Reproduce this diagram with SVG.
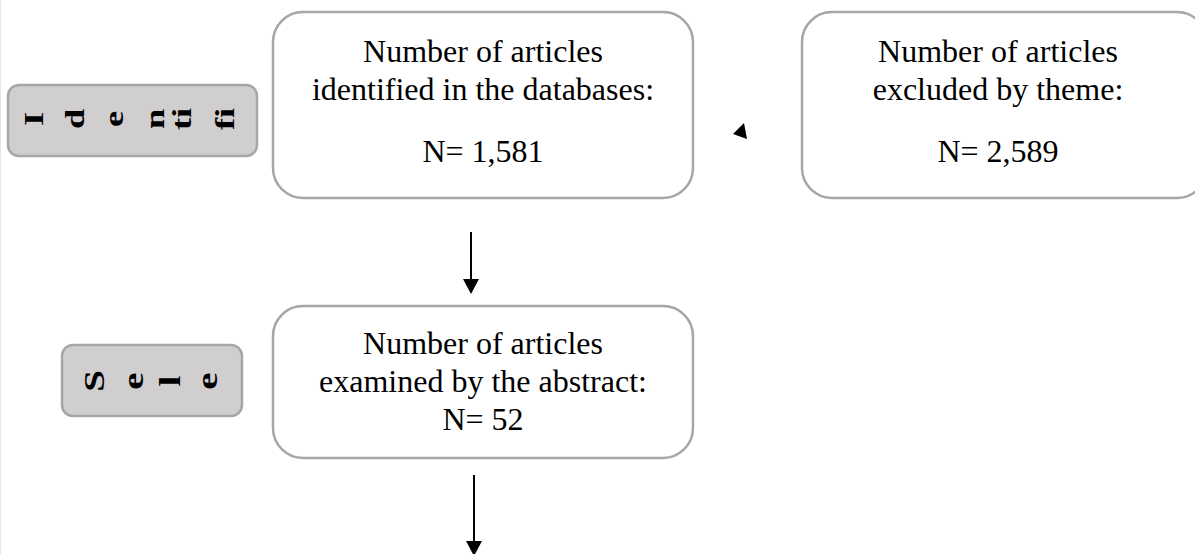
<svg xmlns="http://www.w3.org/2000/svg" width="1195" height="554" viewBox="0 0 1195 554">
<defs>
<style>
.box{fill:#ffffff;stroke:#a6a6a6;stroke-width:2.5}
.side{fill:#d0cece;stroke:#a6a6a6;stroke-width:2.5}
.t{font-family:"Liberation Serif","Times New Roman",serif;font-size:32px;fill:#000;text-anchor:middle}
.r{font-family:"Liberation Serif","Times New Roman",serif;font-size:28px;font-weight:bold;fill:#000;text-anchor:middle}
.r2{font-family:"Liberation Serif","Times New Roman",serif;font-size:30px;font-weight:bold;fill:#000;text-anchor:middle}
.ln{stroke:#000;stroke-width:2;fill:none}
</style>
</defs>
<rect width="1195" height="554" fill="#ffffff"/>
<line x1="0.5" y1="0" x2="0.5" y2="554" stroke="#e6e6e6" stroke-width="1"/>
<g id="identification">
<rect class="side" x="8" y="85" width="249" height="71" rx="11"/>
<text class="r" transform="translate(43,119) rotate(-90) scale(1.3,1)">I</text>
<text class="r" transform="translate(84,119) rotate(-90) scale(1.3,1)">d</text>
<text class="r" transform="translate(123,119) rotate(-90) scale(1.3,1)">e</text>
<text class="r" transform="translate(164,119) rotate(-90) scale(1.3,1)">n</text>
<text class="r" transform="translate(191,119) rotate(-90) scale(1.3,1)">ti</text>
<text class="r" transform="translate(234,119) rotate(-90) scale(1.3,1)">fi</text>
</g>
<g id="selection">
<rect class="side" x="62" y="345" width="180" height="71" rx="11"/>
<text class="r2" transform="translate(104,381) rotate(-90) scale(1.3,1)">S</text>
<text class="r2" transform="translate(143,381) rotate(-90) scale(1.3,1)">e</text>
<text class="r2" transform="translate(180,381) rotate(-90) scale(1.3,1)">l</text>
<text class="r2" transform="translate(217,381) rotate(-90) scale(1.3,1)">e</text>
</g>
<g id="identified">
<rect class="box" x="273" y="12" width="420" height="186" rx="30"/>
<text class="t" x="483" y="62">Number of articles</text>
<text class="t" x="483" y="100">identified in the databases:</text>
<text class="t" x="483" y="162">N= 1,581</text>
</g>
<g id="excluded">
<rect class="box" x="802" y="12" width="405" height="186" rx="30"/>
<text class="t" x="998" y="62">Number of articles</text>
<text class="t" x="998" y="100">excluded by theme:</text>
<text class="t" x="998" y="162">N= 2,589</text>
</g>
<g id="abstract">
<rect class="box" x="273" y="306" width="420" height="152" rx="30"/>
<text class="t" x="483" y="354">Number of articles</text>
<text class="t" x="483" y="392">examined by the abstract:</text>
<text class="t" x="483" y="430">N= 52</text>
</g>
<g id="connectors">
<polygon points="744,123 733,134 747,139" fill="#000"/>
<line class="ln" x1="471" y1="232" x2="471" y2="281"/>
<polygon points="463,279 479,279 471,294" fill="#000"/>
<line class="ln" x1="474" y1="475" x2="474" y2="543"/>
<polygon points="466,541 482,541 474,556" fill="#000"/>
</g>
</svg>
